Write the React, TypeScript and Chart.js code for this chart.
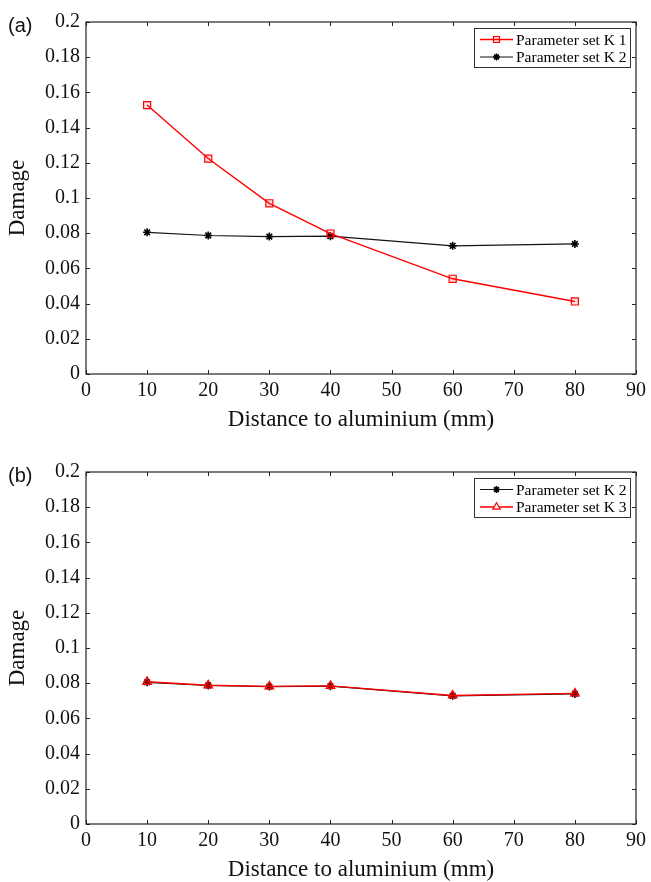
import React, { useEffect, useRef } from 'react';
import { Chart, registerables } from 'chart.js';
import { drawPoint } from 'chart.js/helpers';

Chart.register(...registerables);

// ---------- data ----------
const distances = [10, 20, 30, 40, 60, 80];
const damageK1 = [0.1528, 0.1224, 0.097, 0.0798, 0.0541, 0.0412];
const damageK2 = [0.0805, 0.0787, 0.0781, 0.0783, 0.0728, 0.0739];
const damageK3 = [0.0808, 0.0788, 0.0782, 0.0785, 0.073, 0.0742];
const xTickValues = [0, 10, 20, 30, 40, 50, 60, 70, 80, 90];
const yTickValues = [0, 0.02, 0.04, 0.06, 0.08, 0.1, 0.12, 0.14, 0.16, 0.18, 0.2];
const yTickLabels = ['0', '0.02', '0.04', '0.06', '0.08', '0.1', '0.12', '0.14', '0.16', '0.18', '0.2'];
const xTitle = 'Distance to aluminium (mm)';
const yTitle = 'Damage';

const SERIF = "'Liberation Serif', 'Times New Roman', serif";

const toPoints = (ys: number[]) => distances.map((x, i) => ({ x, y: ys[i] }));

const seriesK1 = () => ({
  label: 'Parameter set K 1',
  data: toPoints(damageK1),
  borderColor: 'rgb(255,0,0)',
  borderWidth: 1.4,
  pointStyle: 'rect',
  pointRadius: 5,
  pointBorderWidth: 1.2,
  pointBorderColor: 'rgb(255,0,0)',
  pointBackgroundColor: 'rgba(255,0,0,0.12)',
  fill: false,
  order: 0,
});
const seriesK2 = () => ({
  label: 'Parameter set K 2',
  data: toPoints(damageK2),
  borderColor: 'rgb(20,20,20)',
  borderWidth: 1.2,
  pointStyle: 'star',
  pointRadius: 4,
  pointBorderWidth: 1.6,
  pointBorderColor: 'rgb(0,0,0)',
  pointBackgroundColor: 'rgb(0,0,0)',
  fill: false,
  order: 1,
});
const seriesK3 = () => ({
  label: 'Parameter set K 3',
  data: toPoints(damageK3),
  borderColor: 'rgb(255,0,0)',
  borderWidth: 1.4,
  pointStyle: 'triangle',
  pointRadius: 5,
  pointBorderWidth: 1.2,
  pointBorderColor: 'rgb(255,0,0)',
  pointBackgroundColor: 'rgba(255,0,0,0.45)',
  fill: false,
  order: 0,
});

// frame + inward ticks on all four sides, and legend box
const framePlugin = {
  id: 'frameTicks',
  afterDraw(chart: any) {
    const { ctx, chartArea: a, scales } = chart;
    const xs = scales.x;
    const ys = scales.y;
    const tl = 4;
    ctx.save();
    ctx.strokeStyle = '#222';
    ctx.lineWidth = 1.2;
    ctx.strokeRect(a.left, a.top, a.right - a.left, a.bottom - a.top);
    ctx.beginPath();
    xTickValues.forEach((v) => {
      const px = Math.round(xs.getPixelForValue(v)) + 0.5;
      ctx.moveTo(px, a.bottom);
      ctx.lineTo(px, a.bottom - tl);
      ctx.moveTo(px, a.top);
      ctx.lineTo(px, a.top + tl);
    });
    yTickValues.forEach((v) => {
      const py = Math.round(ys.getPixelForValue(v)) + 0.5;
      ctx.moveTo(a.left, py);
      ctx.lineTo(a.left + tl, py);
      ctx.moveTo(a.right, py);
      ctx.lineTo(a.right - tl, py);
    });
    ctx.lineWidth = 1;
    ctx.stroke();

    // legend
    const bw = 156;
    const bh = 39;
    const bx = a.right - 6 - bw;
    const by = a.top + 6;
    ctx.fillStyle = '#fff';
    ctx.fillRect(bx, by, bw, bh);
    ctx.strokeStyle = '#333';
    ctx.lineWidth = 1;
    ctx.strokeRect(bx + 0.5, by + 0.5, bw, bh);
    const sets = chart.data.datasets;
    sets.forEach((ds: any, i: number) => {
      const ry = by + 11.5 + i * 17.5;
      ctx.beginPath();
      ctx.strokeStyle = ds.borderColor;
      ctx.lineWidth = ds.borderWidth;
      ctx.moveTo(bx + 6, ry);
      ctx.lineTo(bx + 39, ry);
      ctx.stroke();
      ctx.strokeStyle = ds.pointBorderColor;
      ctx.fillStyle = ds.pointStyle === 'triangle' ? '#fff' : ds.pointBackgroundColor;
      ctx.lineWidth = ds.pointBorderWidth;
      drawPoint(ctx, { pointStyle: ds.pointStyle, radius: ds.pointRadius * 0.85, rotation: 0, borderWidth: ds.pointBorderWidth }, bx + 22.5, ry);
      ctx.fillStyle = '#000';
      ctx.font = `15.5px ${SERIF}`;
      ctx.textAlign = 'left';
      ctx.textBaseline = 'middle';
      ctx.fillText(ds.label, bx + 42, ry + 1);
    });
    ctx.restore();
  },
};

type PanelProps = {
  makeSets: () => any[];
  top: number;
  height: number;
  padBottom: number;
  tag: string;
};

function Panel({ makeSets, top, height, padBottom, tag }: PanelProps) {
  const ref = useRef<HTMLCanvasElement>(null);
  useEffect(() => {
    if (!ref.current) return;
    const chart = new Chart(ref.current, {
      type: 'line',
      data: { datasets: makeSets() },
      plugins: [framePlugin],
      options: {
        animation: false,
        responsive: false,
        maintainAspectRatio: false,
        layout: { padding: { left: 0, right: 12, top: 22, bottom: padBottom } },
        plugins: { legend: { display: false }, tooltip: { enabled: false } },
        scales: {
          x: {
            type: 'linear',
            min: 0,
            max: 90,
            afterBuildTicks: (s: any) => {
              s.ticks = xTickValues.map((v) => ({ value: v }));
            },
            afterFit: (s: any) => {
              s.height = 58;
            },
            grid: { display: false, drawTicks: false },
            border: { display: false },
            ticks: {
              color: '#111',
              padding: 5,
              maxRotation: 0,
              autoSkip: false,
              font: { family: SERIF, size: 20 },
              callback: (v: any) => String(v),
            },
            title: {
              display: true,
              text: xTitle,
              color: '#111',
              padding: { top: 0, bottom: 0 },
              font: { family: SERIF, size: 23, lineHeight: 24 / 23 },
            },
          },
          y: {
            type: 'linear',
            min: 0,
            max: 0.2,
            afterBuildTicks: (s: any) => {
              s.ticks = yTickValues.map((v) => ({ value: v }));
            },
            afterFit: (s: any) => {
              s.width = 86;
            },
            grid: { display: false, drawTicks: false },
            border: { display: false },
            ticks: {
              color: '#111',
              padding: 6,
              autoSkip: false,
              font: { family: SERIF, size: 20 },
              callback: (_v: any, i: number) => yTickLabels[i],
            },
            title: {
              display: true,
              text: yTitle,
              color: '#111',
              padding: { top: 6, bottom: 0 },
              font: { family: SERIF, size: 23, lineHeight: 24 / 23 },
            },
          },
        },
      } as any,
    });
    return () => chart.destroy();
  }, []);
  return (
    <div style={{ position: 'absolute', left: 0, top, width: 651, height }}>
      <canvas ref={ref} width={651} height={height} style={{ display: 'block' }} />
      <div
        style={{
          position: 'absolute',
          left: 8,
          top: 13,
          fontFamily: "'Liberation Sans', Arial, sans-serif",
          fontSize: 20,
          lineHeight: '24px',
          color: '#111',
        }}
      >
        {tag}
      </div>
    </div>
  );
}

export default function App() {
  return (
    <div style={{ position: 'absolute', left: 0, top: 0, width: 651, height: 882, background: '#fff', overflow: 'hidden' }}>
      <Panel makeSets={() => [seriesK1(), seriesK2()]} top={0} height={450} padBottom={18} tag="(a)" />
      <Panel makeSets={() => [seriesK2(), seriesK3()]} top={450} height={432} padBottom={0} tag="(b)" />
    </div>
  );
}
